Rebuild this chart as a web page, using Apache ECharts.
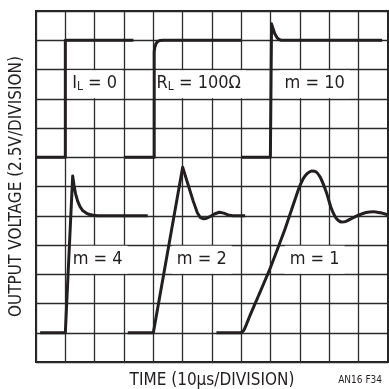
<!DOCTYPE html>
<html>
<head>
<meta charset="utf-8">
<script src="https://cdn.jsdelivr.net/npm/echarts@6/dist/echarts.min.js"></script>
<style>html,body{margin:0;padding:0;background:#fff}#c{width:389px;height:389px}</style>
</head>
<body>
<div id="c"></div>
<script>
// Traces in grid divisions (x: time divisions, y: voltage divisions)
var traceIL0 = [[0,7],[1,7],[1,11],[3.32,11]];
var traceRL = [[3,7],[4.03,7],[4.03,10.6],[4.05,10.76],[4.09,10.88],[4.15,10.96],[4.22,10.99],[4.35,11],[7,11]];
var traceM10 = [[7,7],[7.99,7],[8.03,11.56],[8.08,11.4],[8.14,11.22],[8.21,11.1],[8.28,11.03],[8.36,11],[11.8,11]];
var traceM4 = [[0.14,1],[1,1],[1.25,6.36],[1.3,6.02],[1.35,5.75],[1.42,5.5],[1.5,5.31],[1.6,5.17],[1.7,5.1],[1.8,5.05],[1.95,5.02],[2.1,5],[3.81,5]];
var traceM2 = [[3.13,1],[4,1],[5.0,6.66],[5.36,5.5],[5.5,5.1],[5.6,4.94],[5.7,4.9],[5.8,4.91],[5.95,4.98],[6.1,5.07],[6.25,5.12],[6.4,5.09],[6.55,5.03],[6.7,5.0],[7.13,5.0]];
var traceM1 = [[6.15,1],[6.98,1],[7.08,1.08],[7.18,1.3],[7.3,1.6],[7.6,2.3],[8.0,3.25],[8.49,4.55],[8.94,5.88],[9.1,6.25],[9.25,6.45],[9.4,6.53],[9.55,6.5],[9.7,6.3],[9.91,5.77],[10.05,5.3],[10.2,4.97],[10.32,4.83],[10.42,4.79],[10.55,4.8],[10.75,4.9],[11.0,5.02],[11.25,5.11],[11.5,5.14],[11.75,5.1],[12,5.03]];
var labelTexts = ['{a|I}{s|L}{a| = 0}', '{a|R}{s|L}{a| = 100Ω}', '{a|m = 10}', '{a|m = 4}', '{a|m = 2}', '{a|m = 1}'];
var labelX = [2.0, 5.55, 9.5, 2.1, 5.65, 9.5];
var labelY = [9.5, 9.5, 9.5, 3.5, 3.5, 3.5];
var xTitle = 'TIME (10µs/DIVISION)';
var yTitle = 'OUTPUT VOLTAGE (2.5V/DIVISION)';
var figId = 'AN16 F34';

var FONT = "'Liberation Sans Narrow', 'DejaVu Sans Condensed', 'Roboto Condensed', sans-serif";
var INK = '#231f20';
var chart = echarts.init(document.getElementById('c'), null, {renderer: 'canvas'});

function trace(d, smooth) {
  return {type: 'line', data: d, showSymbol: false, symbol: 'none', smooth: smooth || false,
    lineStyle: {color: INK, width: 3, join: 'round', cap: 'butt'}, z: 5, animation: false};
}
var labelData = labelTexts.map(function (t, i) { return {value: [labelX[i], labelY[i]], name: t}; });

chart.setOption({
  animation: false,
  grid: {left: 36, top: 11, right: 1, bottom: 27, show: true, borderColor: INK, borderWidth: 2,
    containLabel: false, outerBoundsMode: 'none'},
  xAxis: {type: 'value', min: 0, max: 12, interval: 1,
    axisLine: {show: false}, axisTick: {show: false}, axisLabel: {show: false},
    splitLine: {show: true, lineStyle: {color: '#2b2b2b', width: 1.3}},
    name: xTitle, nameLocation: 'middle', nameGap: 10,
    nameTextStyle: {fontFamily: FONT, fontSize: 17, color: INK, verticalAlign: 'top'}},
  yAxis: {type: 'value', min: 0, max: 12, interval: 1,
    axisLine: {show: false}, axisTick: {show: false}, axisLabel: {show: false},
    splitLine: {show: true, lineStyle: {color: '#2b2b2b', width: 1.3}},
    name: yTitle, nameLocation: 'middle', nameGap: 11, nameRotate: 90,
    nameTextStyle: {fontFamily: FONT, fontSize: 17, color: INK, verticalAlign: 'bottom'}},
  series: [
    trace(traceIL0), trace(traceRL), trace(traceM10), trace(traceM4), trace(traceM2), trace(traceM1, 0.15),
    {type: 'scatter', data: labelData, symbolSize: 0, itemStyle: {color: '#ffffff'}, z: 3, silent: true,
      emphasis: {disabled: true},
      label: {show: true, position: 'inside', formatter: function (p) { return p.name; },
        color: INK, opacity: 1, textBorderWidth: 0, textBorderColor: 'transparent',
        backgroundColor: '#fff', padding: [4, 5, 5, 5],
        rich: {
          a: {fontFamily: FONT, fontSize: 18, color: INK, lineHeight: 19, textBorderWidth: 0},
          s: {fontFamily: FONT, fontSize: 12, color: INK, lineHeight: 19, verticalAlign: 'bottom', padding: [8, 0, 0, 0], textBorderWidth: 0}
        }}}
  ],
  graphic: [{type: 'text', right: 7, top: 375, style: {text: figId, fontFamily: FONT, fontSize: 10, fill: INK}}]
});
</script>
</body>
</html>
